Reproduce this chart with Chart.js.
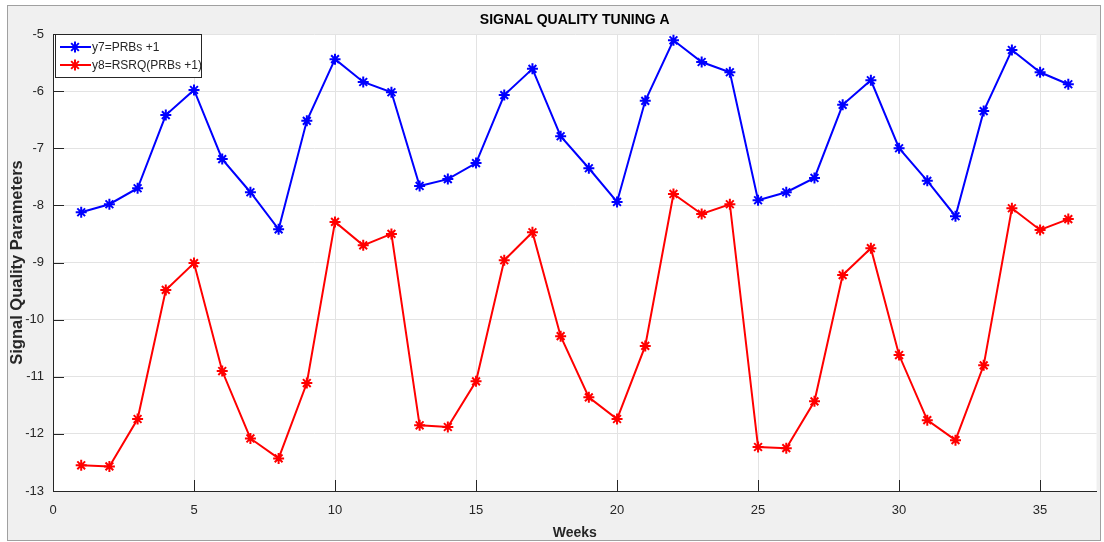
<!DOCTYPE html>
<html>
<head>
<meta charset="utf-8">
<script src="https://cdn.jsdelivr.net/npm/chart.js@4.4.1/dist/chart.umd.min.js"></script>
<style>
  html, body { margin: 0; padding: 0; background: #fff; }
  #wrap { position: relative; width: 1104px; height: 542px; }
</style>
</head>
<body>
<div id="wrap"><canvas id="myChart"></canvas></div>
<script>
// weeks 1..36
const weeks = [1,2,3,4,5,6,7,8,9,10,11,12,13,14,15,16,17,18,19,20,21,22,23,24,25,26,27,28,29,30,31,32,33,34,35,36];

const y7 = [-8.12,-7.98,-7.70,-6.42,-5.98,-7.19,-7.77,-8.42,-6.52,-5.44,-5.84,-6.02,
            -7.66,-7.54,-7.26,-6.07,-5.61,-6.79,-7.35,-7.94,-6.17,-5.11,-5.49,-5.67,
            -7.91,-7.77,-7.52,-6.24,-5.81,-7.00,-7.57,-8.19,-6.35,-5.28,-5.67,-5.88];

const y8 = [-12.55,-12.57,-11.74,-9.48,-9.01,-10.90,-12.08,-12.43,-11.11,-8.29,-8.70,-8.50,
            -11.85,-11.88,-11.08,-8.96,-8.47,-10.29,-11.36,-11.74,-10.46,-7.80,-8.15,-7.98,
            -12.23,-12.25,-11.43,-9.22,-8.75,-10.62,-11.76,-12.11,-10.80,-8.05,-8.43,-8.24];

const seriesLabels = ["y7=PRBs +1", "y8=RSRQ(PRBs +1)"];
const seriesColors = ["#0000ff", "#ff0000"];

const toPoints = (ys) => weeks.map((w, i) => ({ x: w, y: ys[i] }));

const FONT = "'Liberation Sans', Arial, Helvetica, sans-serif";
const TXT = "#262626";

// grey figure background, white axes, matlab-ish frame
const bgPlugin = {
  id: "bg",
  beforeDraw(chart) {
    const { ctx, chartArea: a } = chart;
    ctx.save();
    ctx.fillStyle = "#ffffff";
    ctx.fillRect(0, 0, chart.width, chart.height);
    ctx.fillStyle = "#f0f0f0";
    ctx.fillRect(7, 5, chart.width - 10, chart.height - 6);
    ctx.strokeStyle = "#a0a0a0";
    ctx.lineWidth = 1;
    ctx.strokeRect(7.5, 5.5, chart.width - 11, chart.height - 7);
    ctx.fillStyle = "#ffffff";
    ctx.fillRect(a.left, a.top, a.right - a.left, a.bottom - a.top);
    ctx.restore();
  },
};

// inward tick marks, title, legend box
const decoPlugin = {
  id: "deco",
  afterDatasetsDraw(chart) {
    const { ctx, chartArea: a, scales } = chart;
    ctx.save();
    ctx.strokeStyle = TXT;
    ctx.lineWidth = 1;
    ctx.beginPath();
    scales.x.ticks.forEach((t) => {
      const px = Math.round(scales.x.getPixelForValue(t.value)) + 0.5;
      ctx.moveTo(px, a.bottom);
      ctx.lineTo(px, a.bottom - 11);
    });
    scales.y.ticks.forEach((t) => {
      const py = Math.round(scales.y.getPixelForValue(t.value)) + 0.5;
      ctx.moveTo(a.left, py);
      ctx.lineTo(a.left + 11, py);
    });
    ctx.stroke();

    // title
    ctx.fillStyle = "#000";
    ctx.font = "bold 14px " + FONT;
    ctx.textAlign = "center";
    ctx.textBaseline = "middle";
    ctx.fillText("SIGNAL QUALITY TUNING A", (a.left + a.right) / 2, 20);

    // legend
    const lx = 55, ly = 34, lw = 146, lh = 43;
    ctx.fillStyle = "#ffffff";
    ctx.fillRect(lx, ly, lw, lh);
    ctx.strokeStyle = "#262626";
    ctx.strokeRect(lx + 0.5, ly + 0.5, lw, lh);
    ctx.font = "12px " + FONT;
    ctx.textAlign = "left";
    seriesLabels.forEach((lab, i) => {
      const cy = ly + 13 + i * 18;
      ctx.strokeStyle = seriesColors[i];
      ctx.lineWidth = 2;
      ctx.beginPath();
      ctx.moveTo(lx + 5, cy);
      ctx.lineTo(lx + 36, cy);
      ctx.stroke();
      ctx.lineWidth = 2;
      const cx = lx + 20, r = 5.5;
      ctx.beginPath();
      ctx.moveTo(cx - r, cy); ctx.lineTo(cx + r, cy);
      ctx.moveTo(cx, cy - r); ctx.lineTo(cx, cy + r);
      ctx.moveTo(cx - r * 0.7, cy - r * 0.7); ctx.lineTo(cx + r * 0.7, cy + r * 0.7);
      ctx.moveTo(cx - r * 0.7, cy + r * 0.7); ctx.lineTo(cx + r * 0.7, cy - r * 0.7);
      ctx.stroke();
      ctx.fillStyle = TXT;
      ctx.fillText(lab, lx + 37, cy + 1);
    });
    ctx.restore();
  },
};

const mkSet = (label, data, color) => ({
  label: label,
  data: toPoints(data),
  borderColor: color,
  backgroundColor: color,
  borderWidth: 2,
  pointStyle: "star",
  pointRadius: 5.5,
  pointBorderWidth: 2,
  pointBorderColor: color,
  tension: 0,
});

new Chart(document.getElementById("myChart"), {
  type: "line",
  data: {
    datasets: [
      mkSet(seriesLabels[0], y7, seriesColors[0]),
      mkSet(seriesLabels[1], y8, seriesColors[1]),
    ],
  },
  options: {
    responsive: true,
    maintainAspectRatio: false,
    animation: false,
    layout: { padding: { left: 0, top: 34, right: 7, bottom: 0 } },
    plugins: {
      legend: { display: false },
      tooltip: { enabled: false },
    },
    scales: {
      x: {
        type: "linear",
        min: 0,
        max: 37,
        afterFit: (s) => { s.height = 51; },
        ticks: {
          stepSize: 5,
          includeBounds: false,
          color: TXT,
          font: { family: FONT, size: 13 },
          padding: 12,
          maxRotation: 0,
        },
        grid: { color: "#e3e3e3", tickLength: 0, drawTicks: false },
        border: { color: TXT, width: 1 },
        title: {
          display: true,
          text: "Weeks",
          color: TXT,
          font: { family: FONT, size: 14, weight: "bold" },
          padding: { top: -2, bottom: 0 },
        },
      },
      y: {
        min: -13,
        max: -5,
        afterFit: (s) => { s.width = 53; },
        ticks: {
          stepSize: 1,
          color: TXT,
          font: { family: FONT, size: 13 },
          padding: 9,
        },
        grid: { color: "#e3e3e3", tickLength: 0, drawTicks: false },
        border: { color: TXT, width: 1 },
        title: {
          display: true,
          text: "Signal Quality Parameters",
          color: TXT,
          font: { family: FONT, size: 16.5, weight: "bold" },
          padding: { top: 8, bottom: 0 },
        },
      },
    },
  },
  plugins: [bgPlugin, decoPlugin],
});
</script>
</body>
</html>
